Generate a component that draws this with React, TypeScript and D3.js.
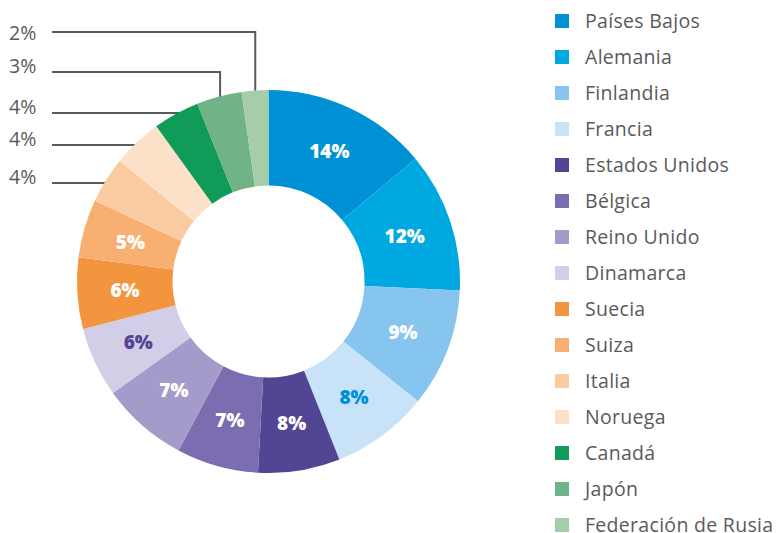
import React from "react";
import * as d3 from "d3";

// Data
const countries = [
  "Países Bajos", "Alemania", "Finlandia", "Francia", "Estados Unidos",
  "Bélgica", "Reino Unido", "Dinamarca", "Suecia", "Suiza",
  "Italia", "Noruega", "Canadá", "Japón", "Federación de Rusia",
];
// arc shares as drawn in the picture (percent)
const shares = [13.9, 11.8, 10.0, 8.2, 6.9, 6.9, 7.3, 5.9, 6.0, 4.9, 3.9, 4.2, 3.9, 3.8, 2.25];
// printed labels
const labels = ["14%", "12%", "9%", "8%", "8%", "7%", "7%", "6%", "6%", "5%", "4%", "4%", "4%", "3%", "2%"];
const colors = [
  "#0091D5", "#00A8E1", "#86C5EE", "#C8E3F7", "#524593",
  "#7B6DB0", "#A59BCB", "#D2CEE8", "#F3953F", "#F7B071",
  "#FACBA0", "#FCE1C8", "#119B58", "#6FB387", "#A6CCAA",
];
const labelColors = [
  "#fff", "#fff", "#fff", "#0091D5", "#fff",
  "#fff", "#fff", "#524593", "#fff", "#fff",
  null, null, null, null, null,
];
// callouts for the small slices (index of slice -> text y, line y)
const calloutIdx = [14, 13, 12, 11, 10];
const calloutTextY = [32, 65, 106, 138, 176];
const calloutLineY = [32, 72, 113, 145, 183];

const W = 784, H = 533;
const cx = 268.5, cy = 281.5, R = 191.5, r0 = 96;
const grey = "#5a5a5a";

export default function App() {
  const pie = d3.pie<number>().sort(null).value((d) => d);
  const arcs = pie(shares);
  const arc = d3.arc<d3.PieArcDatum<number>>().innerRadius(r0).outerRadius(R);
  const labelArc = d3.arc<d3.PieArcDatum<number>>().innerRadius(r0).outerRadius(R);
  const legendY = d3.scaleLinear().domain([0, 1]).range([21, 57]);

  return (
    <svg width={W} height={H} style={{ position: "absolute", left: 0, top: 0, background: "#fff" }}>
      {/* callout lines beneath donut */}
      {calloutIdx.map((idx, k) => {
        const a = arcs[idx];
        const mid = (a.startAngle + a.endAngle) / 2;
        const px = cx + (R - 4) * Math.sin(mid);
        const py = cy - (R - 4) * Math.cos(mid);
        const ly = calloutLineY[k];
        return (
          <g key={"c" + k}>
            <path
              d={`M52,${ly}H${px}V${Math.max(py, ly)}`}
              fill="none"
              stroke={grey}
              strokeWidth={2}
            />
            <text
              x={9}
              y={calloutTextY[k]}
              dominantBaseline="central"
              fontFamily="'Open Sans', sans-serif"
              fontSize={19.5}
              fill={grey}
            >
              {labels[idx]}
            </text>
          </g>
        );
      })}
      <g transform={`translate(${cx},${cy})`}>
        {arcs.map((a, i) => (
          <path key={i} d={arc(a) as string} fill={colors[i]} />
        ))}
        {arcs.map((a, i) => {
          if (!labelColors[i]) return null;
          const [lx, ly] = labelArc.centroid(a);
          return (
            <text
              key={"l" + i}
              x={lx}
              y={ly}
              textAnchor="middle"
              dominantBaseline="central"
              fontFamily="'Open Sans', sans-serif"
              fontWeight={800}
              fontSize={19}
              fill={labelColors[i] as string}
            >
              {labels[i]}
            </text>
          );
        })}
      </g>
      {countries.map((c, i) => (
        <g key={"lg" + i} transform={`translate(0,${legendY(i)})`}>
          <rect x={555} y={-7} width={14} height={14} fill={colors[i]} />
          <text
            x={585}
            y={-1}
            dominantBaseline="central"
            fontFamily="'Open Sans', sans-serif"
            fontSize={19.5}
            letterSpacing={0.3}
            fill={grey}
          >
            {c}
          </text>
        </g>
      ))}
    </svg>
  );
}
